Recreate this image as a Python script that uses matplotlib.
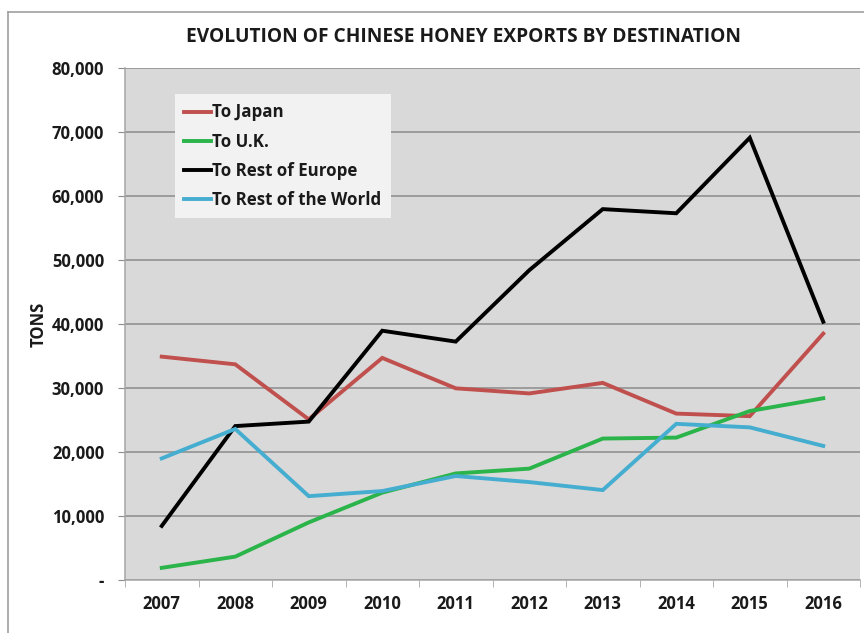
import matplotlib.pyplot as plt
from matplotlib.ticker import FuncFormatter

plt.rcParams['font.family'] = ['Open Sans', 'DejaVu Sans']
plt.rcParams['font.weight'] = 'bold'

years = ['2007', '2008', '2009', '2010', '2011', '2012', '2013', '2014', '2015', '2016']
to_japan = [34900, 33700, 25100, 34700, 29950, 29150, 30800, 26000, 25600, 38500]
to_uk = [1900, 3650, 9000, 13650, 16650, 17400, 22100, 22250, 26400, 28400]
to_rest_europe = [8450, 24050, 24750, 38950, 37250, 48400, 57950, 57300, 69100, 40350]
to_rest_world = [19000, 23600, 13100, 13900, 16250, 15300, 14050, 24400, 23850, 20950]

series = [
    ('To Japan', to_japan, '#c0504d'),
    ('To U.K.', to_uk, '#2ab44a'),
    ('To Rest of Europe', to_rest_europe, '#000000'),
    ('To Rest of the World', to_rest_world, '#45aed0'),
]

fig = plt.figure(figsize=(8.64, 6.33), dpi=100)
ax = fig.add_axes([125 / 864, 1 - 580 / 633, 735 / 864, 512 / 633])
ax.set_facecolor('#d9d9d9')

x = list(range(len(years)))
for name, vals, color in series:
    ax.plot(x, vals, color=color, lw=2.8, label=name, solid_joinstyle='miter')

ax.set_xlim(-0.5, len(years) - 0.5)
ax.set_ylim(0, 80000)
ax.set_yticks(range(0, 80001, 10000))
ax.yaxis.set_major_formatter(FuncFormatter(lambda v, p: '-' if v == 0 else f'{int(v):,}'))
ax.set_xticks(x)
ax.set_xticklabels(years)
ax.set_xticks([i - 0.5 for i in range(len(years) + 1)], minor=True)

ax.grid(axis='y', color='#8c8c8c', lw=1.1)
ax.set_axisbelow(True)
for s in ['top', 'right']:
    ax.spines[s].set_visible(False)
for s in ['left', 'bottom']:
    ax.spines[s].set_color('#a6a6a6')
    ax.spines[s].set_linewidth(1.1)

ax.tick_params(axis='y', length=5, color='#8c8c8c', labelsize=12, pad=10)
ax.tick_params(axis='x', which='major', length=0, labelsize=12, pad=11)
ax.tick_params(axis='x', which='minor', length=5, color='#a6a6a6')
for lab in ax.get_xticklabels() + ax.get_yticklabels():
    lab.set_fontweight('bold')
    lab.set_color('#1a1a1a')

ax.set_ylabel('TONS', fontsize=12, fontweight='bold', labelpad=3, color='#1a1a1a')

leg = ax.legend(loc='upper left', bbox_to_anchor=(0.068, 0.949), borderaxespad=0,
                frameon=True, fancybox=False, handlelength=1.55, handletextpad=0.1,
                labelspacing=0.66, borderpad=0.55, prop={'weight': 'bold', 'size': 12.2})
leg.get_frame().set_facecolor('#f2f2f2')
leg.get_frame().set_edgecolor('none')
leg.get_frame().set_alpha(1)
for t in leg.get_texts():
    t.set_color('#1a1a1a')

fig.text(463 / 864, 1 - 37 / 633, 'EVOLUTION OF CHINESE HONEY EXPORTS BY DESTINATION',
         ha='center', va='center', fontsize=13.8, fontweight='bold', color='#1a1a1a')

# outer chart frame along the top and left edges
fig.add_artist(plt.Line2D([8 / 864, 8 / 864], [0, 1 - 12 / 633], transform=fig.transFigure,
                          color='#a0a0a0', lw=1.2))
fig.add_artist(plt.Line2D([8 / 864, 1], [1 - 12 / 633, 1 - 12 / 633], transform=fig.transFigure,
                          color='#a0a0a0', lw=1.2))

fig.savefig('out.png', dpi=100)
